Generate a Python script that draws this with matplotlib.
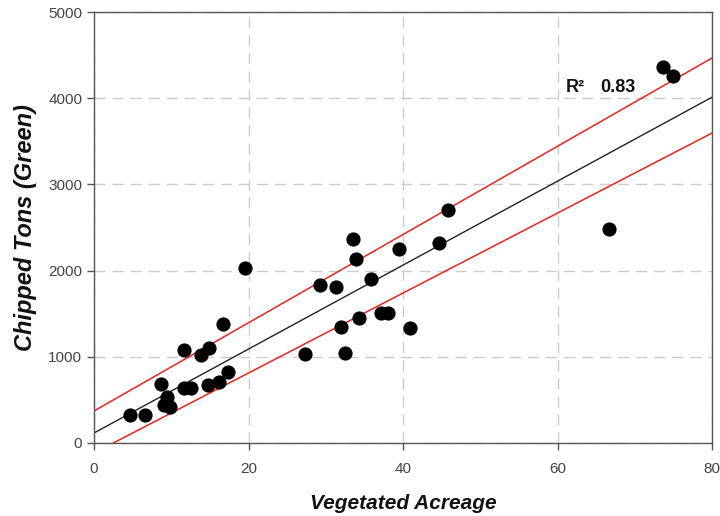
import matplotlib.pyplot as plt
import numpy as np

plt.rcParams['font.family'] = ['Liberation Sans', 'DejaVu Sans']

acreage = [4.7, 6.6, 8.7, 9.5, 9.1, 9.8, 11.7, 11.7, 12.6, 13.8, 14.9, 14.8,
           16.2, 16.7, 17.4, 19.5, 27.3, 32.5, 29.3, 31.3, 33.5, 33.9, 32.0,
           34.3, 35.9, 37.2, 38.0, 39.5, 40.9, 44.7, 45.8, 66.6, 73.7, 74.9]
tons = [328, 321, 688, 537, 441, 421, 1075, 638, 642, 1025, 1106, 669,
        704, 1377, 820, 2030, 1032, 1040, 1833, 1810, 2370, 2131, 1346,
        1450, 1906, 1505, 1505, 2251, 1338, 2317, 2703, 2479, 4358, 4258]

# Fit line and bounds: (intercept, slope)
fit_line = (116, 48.7)
upper_line = (371, 51.2)
lower_line = (-116, 46.4)
r_squared = 0.83

fig = plt.figure(figsize=(7.2, 5.16), dpi=100)
ax = fig.add_axes([0.1306, 0.1415, 0.8584, 0.8352])

xs = np.array([0, 80])
ax.plot(xs, fit_line[0] + fit_line[1] * xs, color="#222222", lw=1.0, zorder=2)
ax.plot(xs, upper_line[0] + upper_line[1] * xs, color="#e8231f", lw=1.1, zorder=2)
ax.plot(xs, lower_line[0] + lower_line[1] * xs, color="#e8231f", lw=1.1, zorder=2)

ax.scatter(acreage, tons, s=85, color="black", zorder=3)

ax.text(61.0, 4130, "R²", fontsize=13, fontweight="bold", color="#111111", va="center")
ax.text(65.5, 4130, f"{r_squared:.2f}", fontsize=13, fontweight="bold",
        color="#111111", va="center")

ax.set_xlim(0, 80)
ax.set_ylim(0, 5000)
ax.set_xticks([0, 20, 40, 60, 80])
ax.set_yticks([0, 1000, 2000, 3000, 4000, 5000])
ax.grid(True, color="#cccccc", linestyle=(0, (8, 5)), linewidth=1.0)
ax.set_axisbelow(True)
for s in ax.spines.values():
    s.set_color("#555555")
    s.set_linewidth(1.0)
ax.tick_params(colors="#555555", labelcolor="#444444", labelsize=11, length=5, width=1)
ax.tick_params(axis="x", pad=9)

ax.set_xlabel("Vegetated Acreage", fontsize=15, fontweight="bold", style="italic",
              color="#111111", labelpad=13)
ax.set_ylabel("Chipped Tons (Green)", fontsize=17, fontweight="bold", style="italic",
              color="#111111", labelpad=8)

plt.savefig("out.png", dpi=100)
